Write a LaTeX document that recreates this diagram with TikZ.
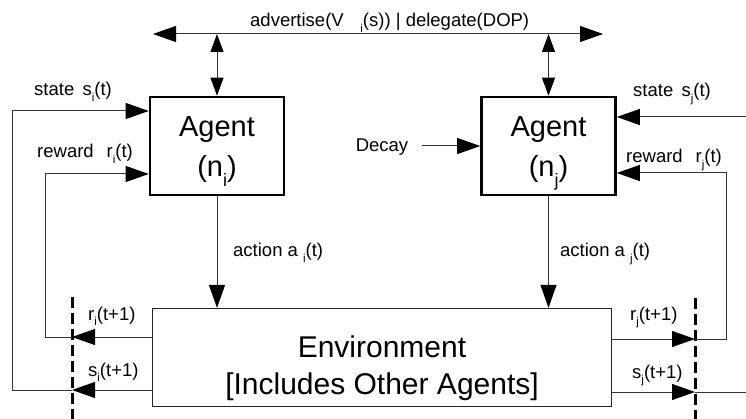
\documentclass[tikz,border=0pt]{standalone}
\usepackage{fontspec}
\usepackage{graphicx}
\setmainfont{Liberation Sans}
\usetikzlibrary{arrows.meta}
\newcommand\lsub[1]{\raisebox{-0.32em}{\scalebox{0.62}{#1}}}
\begin{document}
\begin{tikzpicture}[x=1pt,y=-1pt,
  conn/.style={draw=black!80, line width=1pt},
  tipA/.style={-{Triangle[length=23pt,width=16pt,color=black]}},
  tipB/.style={{Triangle[length=23pt,width=16pt,color=black]}-{Triangle[length=23pt,width=16pt,color=black]}},
  tipC/.style={{Triangle[length=18pt,width=13pt,color=black]}-{Triangle[length=18pt,width=13pt,color=black]}},
  agentbox/.style={draw=black, line width=2.6pt, minimum width=134pt, minimum height=98pt, inner sep=0pt},
  envbox/.style={draw=black!85, line width=1.2pt, minimum width=459pt, minimum height=98pt, inner sep=0pt},
  bigtxt/.style={font=\fontsize{29}{33}\selectfont, inner sep=0pt, anchor=base},
  envtxt/.style={font=\fontsize{30}{34}\selectfont, inner sep=0pt, anchor=base},
  lbl/.style={font=\fontsize{18.5}{20}\selectfont, inner sep=0pt, anchor=base west},
  cutline/.style={line width=3pt, dash pattern=on 11pt off 5pt}]
\useasboundingbox (0,0) rectangle (746,419);

% boxes
\node[agentbox] (agi) at (217,146) {};
\node[agentbox] (agj) at (548.5,146) {};
\node[envbox] (env) at (382,357.5) {};

\node[bigtxt] (agit1) at (217,137) {Agent};
\node[bigtxt] (agit2) at (217,177) {(n\lsub{i})};
\node[bigtxt] (agjt1) at (548.5,137) {Agent};
\node[bigtxt] (agjt2) at (548.5,177) {(n\lsub{j})};
\node[envtxt] (envt1) at (382,357) {Environment};
\node[envtxt] (envt2) at (382,394) {[Includes Other Agents]};

% top communication line
\coordinate (topL) at (153,34);
\coordinate (topR) at (603,34);
\draw[conn, tipB] (topL) -- (topR);
\node[lbl] (advl) at (250,27) {advertise(V\hspace{0.9em}\lsub{i}(s)) | delegate(DOP)};
\draw[conn, tipC] (agi.north) -- (agi.north |- topL);
\draw[conn, tipC] (agj.north) -- (agj.north |- topL);

% actions
\draw[conn, tipA] (agi.south) -- (agi.south |- env.north);
\draw[conn, tipA] (agj.south) -- (agj.south |- env.north);
\node[lbl] (acti) at (233,257) {action a \lsub{i}(t)};
\node[lbl] (actj) at (560,257) {action a \lsub{j}(t)};

% decay
\node[lbl, anchor=base] (decay) at (382,152) {Decay};
\coordinate (decS) at (422,146);
\draw[conn, tipA] (decS) -- (decS -| agj.west);

% cut lines
\coordinate (cutLt) at (72,297);
\coordinate (cutLb) at (72,419);
\coordinate (cutRt) at (695,298);
\coordinate (cutRb) at (695,419);
\draw[cutline] (cutLt) -- (cutLb);
\draw[cutline] (cutRt) -- (cutRb);

% left loops (agent i)
\coordinate (siX) at (72,390);
\coordinate (siC) at (12,390);
\coordinate (siT) at (12,111);
\draw[conn, tipA] (siX -| env.west) -- (siX);
\draw[conn, tipA] (siX) -- (siC) -- (siT) -- (siT -| agi.west);
\coordinate (riX) at (72,337);
\coordinate (riC) at (45,337);
\coordinate (riT) at (45,174);
\draw[conn, tipA] (riX -| env.west) -- (riX);
\draw[conn, tipA] (riX) -- (riC) -- (riT) -- (riT -| agi.west);

\node[lbl] (lsi) at (34,96) {state\hspace{0.45em}s\lsub{i}(t)};
\node[lbl] (lri) at (37,158) {reward\hspace{0.7em}r\lsub{i}(t)};
\node[lbl] (lri1) at (88,320) {r\lsub{i}(t+1)};
\node[lbl] (lsi1) at (88,376) {s\lsub{i}(t+1)};

% right loops (agent j)
\coordinate (sjX) at (695,392);
\coordinate (sjE) at (746,392);
\draw[conn, tipA] (sjX -| env.east) -- (sjX);
\draw[conn] (sjX) -- (sjE);
\coordinate (sjT) at (746,117);
\draw[conn, tipA] (sjT) -- (sjT -| agj.east);
\coordinate (rjX) at (695,339);
\coordinate (rjC) at (726,339);
\coordinate (rjT) at (726,173);
\draw[conn, tipA] (rjX -| env.east) -- (rjX);
\draw[conn, tipA] (rjX) -- (rjC) -- (rjT) -- (rjT -| agj.east);

\node[lbl] (lsj) at (633,97) {state\hspace{0.45em}s\lsub{j}(t)};
\node[lbl] (lrj) at (626,163) {reward\hspace{0.7em}r\lsub{j}(t)};
\node[lbl] (lrj1) at (630,320) {r\lsub{j}(t+1)};
\node[lbl] (lsj1) at (632,378) {s\lsub{j}(t+1)};
\end{tikzpicture}
\end{document}
